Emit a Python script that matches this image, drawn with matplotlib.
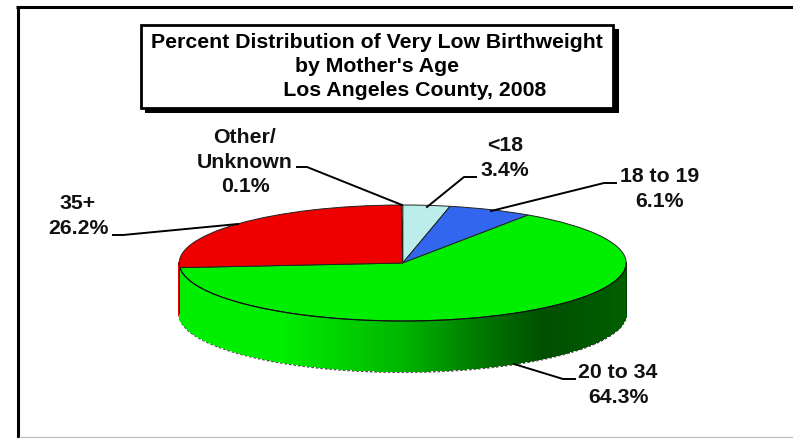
import numpy as np
from matplotlib import pyplot as plt
from matplotlib.colors import to_rgb
from matplotlib.patches import Rectangle

plt.rcParams['font.family'] = ['Liberation Sans', 'DejaVu Sans']

W, H = 793, 438

# clockwise from 12 o'clock
categories = ["<18", "18 to 19", "20 to 34", "35+", "Other/\nUnknown"]
percents = [3.4, 6.1, 64.3, 26.2, 0.1]
colors = ["#BBEDEB", "#3366EE", "#00EE00", "#EE0000", "#EEEEEE"]

title_lines = ["Percent Distribution of Very Low Birthweight",
               "by Mother's Age",
               "             Los Angeles County, 2008"]

# pie geometry in pixels
cx, cy = 402.7, 263.0
rx, ry = 223.5, 58.0
depth = 50.0 / ry

# label centre, then leader line points
label_pos = [(505, 158), (660, 189), (618, 385), (78, 216), (245, 162)]
leaders = [
    [(476, 177), (464, 177), (427, 207)],
    [(616, 183), (604, 183), (491, 211)],
    [(575, 379), (563, 379), (514, 364)],
    [(113, 235), (123, 235), (238, 224)],
    [(297, 167), (307, 167), (402, 205)],
]


def shade(x):
    # wall lighting, bright on the left and dark towards the right
    return np.interp(x, [-1.0, -0.55, 0.0, 0.35, 0.63, 1.0],
                     [1.0, 1.0, 0.76, 0.5, 0.33, 0.4])


fig = plt.figure(figsize=(W / 100, H / 100), dpi=100, facecolor='white')

# pie axes, data units are pie radii
xlim = (-1.25, 1.25)
ylim = (-2.2, 1.25)
left = (cx + xlim[0] * rx) / W
bottom = (H - (cy - ylim[0] * ry)) / H
ax = fig.add_axes([left, bottom, (xlim[1] - xlim[0]) * rx / W,
                   (ylim[1] - ylim[0]) * ry / H])
wedges, _ = ax.pie(percents, colors=colors, startangle=90, counterclock=False,
                   radius=1.0, wedgeprops=dict(edgecolor='#222222', linewidth=0.7))
ax.set_aspect('auto')
ax.set_xlim(xlim)
ax.set_ylim(ylim)
ax.patch.set_alpha(0)
for w in wedges:
    w.set_zorder(5)
    w.set_clip_on(False)

# side wall, front half only. red goes first so green covers most of its sliver
ends = 90 - 360 * np.cumsum(percents) / np.sum(percents)
starts = np.r_[90, ends[:-1]]
for start, end, col in list(zip(starts, ends, colors))[::-1]:
    a0, a1 = min(start, 0), max(end, -180)
    if a0 <= a1:
        continue
    angles = np.radians(np.linspace(a0, a1, max(2, int((a0 - a1) * 1.6))))
    base = np.array(to_rgb(col))
    for t0, t1 in zip(angles[:-1], angles[1:]):
        xs = [np.cos(t0), np.cos(t1), np.cos(t1), np.cos(t0)]
        ys = [np.sin(t0), np.sin(t1), np.sin(t1) - depth, np.sin(t0) - depth]
        c = base * shade((xs[0] + xs[1]) / 2)
        ax.fill(xs, ys, color=c, linewidth=0.6, antialiased=False, zorder=2, clip_on=False)

front = np.radians(np.linspace(0, -180, 240))
ax.plot(np.cos(front), np.sin(front), color='#111111', lw=0.8, zorder=6)
ax.plot(np.cos(front), np.sin(front) - depth - 0.02, color='#555555', lw=1.3,
        ls=(0, (1.5, 1)), zorder=1)
ax.plot([-1, -1], [0, -depth], color='#661111', lw=0.7, zorder=3)
ax.plot([1, 1], [0, -depth], color='#003300', lw=0.6, zorder=3)

# overlay in pixel coords for frame, title box and labels
ov = fig.add_axes([0, 0, 1, 1], zorder=10)
ov.set_xlim(0, W)
ov.set_ylim(H, 0)
ov.axis('off')

ov.plot([17.5, 17.5], [6, H], color='black', lw=2.2, solid_capstyle='butt')
ov.plot([16, W], [7.3, 7.3], color='black', lw=2.2, solid_capstyle='butt')
ov.plot([19, W], [437.3, 437.3], color='#BBBBBB', lw=0.9, solid_capstyle='butt')

ov.add_patch(Rectangle((145, 29), 473.5, 84, fc='black', ec='none'))
ov.add_patch(Rectangle((141, 25), 472, 83, fc='white', ec='black', lw=2.0))
for line, y in zip(title_lines, [42, 66, 91]):
    ov.text(377, y, line, ha='center', va='center', fontsize=15.3, fontweight='bold')

for name, val, pos, pts in zip(categories, percents, label_pos, leaders):
    ov.text(pos[0], pos[1], f"{name}\n{val}%", ha='center', va='center',
            fontsize=15.3, fontweight='bold', linespacing=1.34, color='#111111')
    ov.plot([p[0] for p in pts], [p[1] for p in pts], color='black', lw=1.4)

fig.savefig('out.png', dpi=100)
